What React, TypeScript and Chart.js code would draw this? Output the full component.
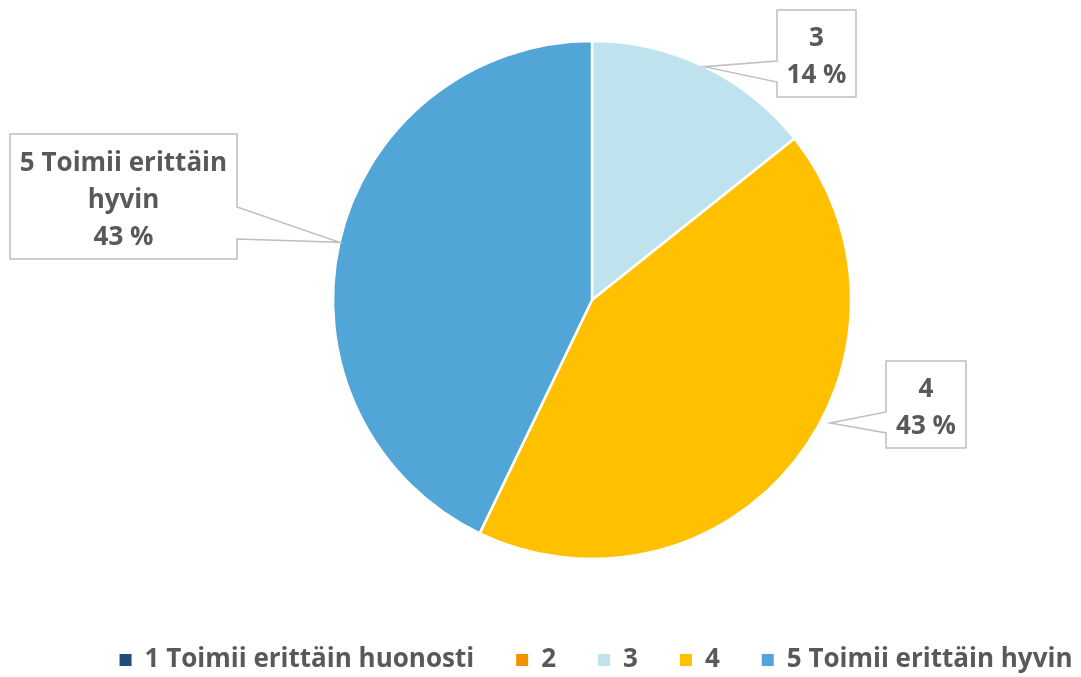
import { useEffect, useRef } from "react";
import { Chart, registerables } from "chart.js";

Chart.register(...registerables);

const categories = ["1 Toimii erittäin huonosti", "2", "3", "4", "5 Toimii erittäin hyvin"];
const values = [0, 0, 1, 3, 3];
const colors = ["#1F4E79", "#F39200", "#BEE3EF", "#FFC000", "#52A5D7"];
const calloutLines: string[][] = [[], [], ["3"], ["4"], ["5 Toimii erittäin", "hyvin"]];

const FONT = "'Open Sans', sans-serif";
const FONT_SIZE = 26;
const TEXT = "#595959";

type Callout = {
  index: number;
  dx: number;
  dy: number;
  w: number;
  h: number;
  side: "left" | "right";
  b1: number;
  b2: number;
  tipAngle: number | null;
  tipR: number;
};
const callouts: Callout[] = [
  { index: 2, dx: 185, dy: -290, w: 79, h: 87, side: "left", b1: 51, b2: 72, tipAngle: null, tipR: 1.0 },
  { index: 3, dx: 294, dy: 61, w: 80, h: 87, side: "left", b1: 51, b2: 72, tipAngle: 117.3, tipR: 1.035 },
  { index: 4, dx: -582, dy: -166, w: 227, h: 125, side: "right", b1: 73, b2: 105, tipAngle: null, tipR: 1.0 },
];

const legendShiftPlugin = {
  id: "legendShift",
  afterLayout(chart: any) {
    const lg = chart.legend;
    if (lg) {
      lg.left += 4;
      lg.right += 4;
    }
  },
};

const calloutPlugin = {
  id: "callouts",
  afterDatasetsDraw(chart: any) {
    const meta = chart.getDatasetMeta(0);
    const arc0 = meta.data[0];
    if (!arc0) return;
    const cx = arc0.x;
    const cy = arc0.y;
    const r = arc0.outerRadius;
    const data = chart.data.datasets[0].data as number[];
    const total = data.reduce((a, b) => a + b, 0);
    const ctx = chart.ctx;
    ctx.save();
    for (const c of callouts) {
      const arc = meta.data[c.index];
      let ang: number;
      if (c.tipAngle === null) {
        ang = (arc.startAngle + arc.endAngle) / 2;
      } else {
        ang = (c.tipAngle * Math.PI) / 180 - Math.PI / 2;
      }
      const tx = cx + Math.cos(ang) * r * c.tipR;
      const ty = cy + Math.sin(ang) * r * c.tipR;
      const left = cx + c.dx;
      const top = cy + c.dy;
      const right = left + c.w;
      const bottom = top + c.h;
      ctx.beginPath();
      ctx.moveTo(left, top);
      ctx.lineTo(right, top);
      if (c.side === "right") {
        ctx.lineTo(right, top + c.b1);
        ctx.lineTo(tx, ty);
        ctx.lineTo(right, top + c.b2);
      }
      ctx.lineTo(right, bottom);
      ctx.lineTo(left, bottom);
      if (c.side === "left") {
        ctx.lineTo(left, top + c.b2);
        ctx.lineTo(tx, ty);
        ctx.lineTo(left, top + c.b1);
      }
      ctx.closePath();
      ctx.fillStyle = "#FFFFFF";
      ctx.fill();
      ctx.strokeStyle = "#BFBFBF";
      ctx.lineWidth = 1.5;
      ctx.stroke();

      const pct = Math.round((data[c.index] / total) * 100) + " %";
      const lines = [...calloutLines[c.index], pct];
      const lh = 37;
      const midY = top + c.h / 2 + 4;
      ctx.fillStyle = TEXT;
      ctx.font = `bold ${FONT_SIZE}px ${FONT}`;
      ctx.textAlign = "center";
      ctx.textBaseline = "middle";
      lines.forEach((t, i) => {
        const y = midY + (i - (lines.length - 1) / 2) * lh;
        ctx.fillText(t, left + c.w / 2, y);
      });
    }
    ctx.restore();
  },
};

export default function App() {
  const ref = useRef<HTMLCanvasElement | null>(null);
  useEffect(() => {
    if (!ref.current) return;
    const chart = new Chart(ref.current, {
      type: "pie",
      data: {
        labels: categories,
        datasets: [
          {
            data: values,
            backgroundColor: colors,
            borderColor: "#FFFFFF",
            borderWidth: 2.5,
          },
        ],
      },
      options: {
        animation: false,
        responsive: true,
        maintainAspectRatio: false,
        radius: 259,
        layout: { padding: 0 },
        plugins: {
          tooltip: { enabled: false },
          legend: {
            position: "bottom",
            labels: {
              boxWidth: 12,
              boxHeight: 12,
              padding: 42,
              color: TEXT,
              font: { family: FONT, weight: "bold", size: FONT_SIZE },
              generateLabels: (ch: any) =>
                Chart.overrides.pie.plugins.legend.labels
                  .generateLabels(ch)
                  .map((l: any) => ({ ...l, lineWidth: 0, strokeStyle: l.fillStyle })),
            },
          },
        },
      } as any,
      plugins: [calloutPlugin, legendShiftPlugin],
    });
    return () => chart.destroy();
  }, []);
  return (
    <div style={{ position: "fixed", left: 0, top: -5, width: 1184, height: 688 }}>
      <canvas ref={ref} />
    </div>
  );
}
